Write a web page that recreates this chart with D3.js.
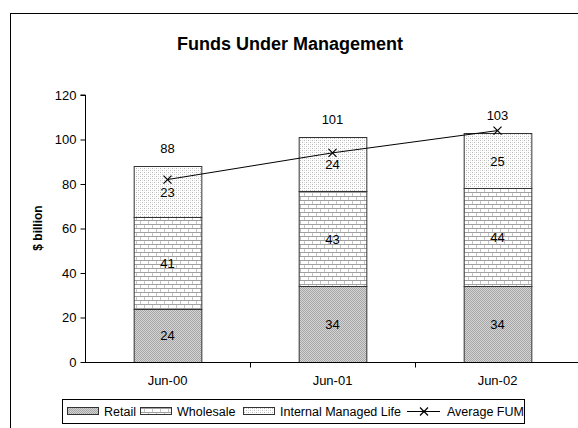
<!DOCTYPE html>
<html>
<head>
<meta charset="utf-8">
<script src="https://cdn.jsdelivr.net/npm/d3@7"></script>
<style>
  html, body { margin: 0; padding: 0; background: #fff; }
  svg { display: block; font-family: Arial, "Liberation Sans", sans-serif; }
</style>
</head>
<body>
<svg id="chart" width="578" height="428"></svg>
<script>
// Funds under management, $ billion
const categories = ["Jun-00", "Jun-01", "Jun-02"];
const retail = [24, 34, 34];
const wholesale = [41, 43, 44];
const internalLife = [23, 24, 25];
const totals = [88, 101, 103];
const averageFum = [82, 94, 104];
const yTicks = [0, 20, 40, 60, 80, 100, 120];

const seriesNames = ["Retail", "Wholesale", "Internal Managed Life"];
const seriesValues = [retail, wholesale, internalLife];
const seriesFill = ["url(#pRetail)", "url(#pWholesale)", "url(#pLife)"];

const svg = d3.select("#chart");
const margin = { left: 85 };
const W = 578;
const FONT = "Arial, 'Liberation Sans', sans-serif";

// --- patterns (mimic the Excel hatch fills) ---
const defs = svg.append("defs");
const pr = defs.append("pattern").attr("id", "pRetail")
  .attr("patternUnits", "userSpaceOnUse").attr("width", 2).attr("height", 2);
pr.append("rect").attr("width", 2).attr("height", 2).attr("fill", "#d4d4d4");
pr.append("rect").attr("width", 1).attr("height", 1).attr("fill", "#a6a6a6");
pr.append("rect").attr("x", 1).attr("y", 1).attr("width", 1).attr("height", 1).attr("fill", "#a6a6a6");

const pw = defs.append("pattern").attr("id", "pWholesale")
  .attr("patternUnits", "userSpaceOnUse").attr("width", 8).attr("height", 8);
pw.append("rect").attr("width", 8).attr("height", 8).attr("fill", "#fff");
pw.append("rect").attr("y", 0).attr("width", 8).attr("height", 1).attr("fill", "#a0a0a0");
pw.append("rect").attr("y", 4).attr("width", 8).attr("height", 1).attr("fill", "#a0a0a0");
pw.append("rect").attr("x", 0).attr("y", 1).attr("width", 1).attr("height", 3).attr("fill", "#c4c4c4");
pw.append("rect").attr("x", 4).attr("y", 5).attr("width", 1).attr("height", 3).attr("fill", "#c4c4c4");

const pl = defs.append("pattern").attr("id", "pLife")
  .attr("patternUnits", "userSpaceOnUse").attr("width", 4).attr("height", 4);
pl.append("rect").attr("width", 4).attr("height", 4).attr("fill", "#fff");
pl.append("rect").attr("width", 1).attr("height", 1).attr("fill", "#b8b8b8");
pl.append("rect").attr("x", 2).attr("y", 2).attr("width", 1).attr("height", 1).attr("fill", "#b8b8b8");
pl.append("rect").attr("x", 2).attr("y", 0).attr("width", 1).attr("height", 1).attr("fill", "#e0e0e0");
pl.append("rect").attr("x", 0).attr("y", 2).attr("width", 1).attr("height", 1).attr("fill", "#e0e0e0");

// outer chart border
svg.append("rect").attr("x", 10.5).attr("y", 13.5)
  .attr("width", 600).attr("height", 440)
  .attr("fill", "none").attr("stroke", "#000").attr("stroke-width", 1);

// title
svg.append("text").attr("x", 290).attr("y", 50).attr("text-anchor", "middle")
  .attr("font-size", 18).attr("font-weight", "bold").text("Funds Under Management");

const x = d3.scaleBand().domain(categories)
  .range([margin.left, margin.left + 165 * categories.length]).paddingInner(0.59).paddingOuter(0.295);
const xTick = d3.scaleBand().domain(categories).range([margin.left, margin.left + 165 * categories.length]);
const y = d3.scaleLinear().domain([0, 120]).range([362, 95]);

// stacked bars
const stackData = categories.map((c, i) => {
  const row = { cat: c };
  seriesNames.forEach((s, k) => { row[s] = seriesValues[k][i]; });
  return row;
});
const stacked = d3.stack().keys(seriesNames)(stackData);

stacked.forEach((layer, k) => {
  const g = svg.append("g");
  g.selectAll("rect").data(layer).join("rect")
    .attr("x", d => x(d.data.cat) + 0.5)
    .attr("y", d => Math.round(y(d[1])) + 0.5)
    .attr("width", x.bandwidth())
    .attr("height", d => Math.round(y(d[0])) - Math.round(y(d[1])))
    .attr("fill", seriesFill[k])
    .attr("stroke", "#333").attr("stroke-width", 1);
  g.selectAll("text").data(layer).join("text")
    .attr("x", d => x(d.data.cat) + x.bandwidth() / 2)
    .attr("y", d => y((d[0] + d[1]) / 2) + 5)
    .attr("text-anchor", "middle").attr("font-size", 13)
    .text(d => d[1] - d[0]);
});

// totals above bars
svg.selectAll("text.total").data(categories).join("text").attr("class", "total")
  .attr("x", c => x(c) + x.bandwidth() / 2)
  .attr("y", (c, i) => y(totals[i]) - 13)
  .attr("text-anchor", "middle").attr("font-size", 13)
  .text((c, i) => totals[i]);

// average FUM line
const cx = c => x(c) + x.bandwidth() / 2;
svg.append("path")
  .attr("d", d3.line().x((d, i) => cx(categories[i])).y(d => y(d))(averageFum))
  .attr("fill", "none").attr("stroke", "#000").attr("stroke-width", 1);
svg.selectAll("path.mk").data(averageFum).join("path").attr("class", "mk")
  .attr("d", (d, i) => {
    const px = cx(categories[i]), py = y(d), r = 4;
    return `M${px - r},${py - r}L${px + r},${py + r}M${px - r},${py + r}L${px + r},${py - r}`;
  })
  .attr("stroke", "#000").attr("stroke-width", 1.2);

// axes
const yAxis = svg.append("g").attr("transform", `translate(${margin.left + 0.5},0)`)
  .call(d3.axisLeft(y).tickValues(yTicks).tickSize(5).tickPadding(4));
yAxis.select(".domain").attr("d", `M-5,${y(120)}H0V${y(0)}`);
yAxis.selectAll("text").attr("font-size", 13).attr("font-family", FONT).attr("fill", "#000");

const xAxis = svg.append("g").attr("transform", `translate(0,${Math.round(y(0)) + 0.5})`);
xAxis.append("line").attr("x1", margin.left).attr("x2", W).attr("stroke", "#000");
xAxis.selectAll("line.tk").data(categories.slice(1)).join("line").attr("class", "tk")
  .attr("x1", c => Math.round(xTick(c)) + 0.5).attr("x2", c => Math.round(xTick(c)) + 0.5)
  .attr("y1", 0).attr("y2", 5).attr("stroke", "#000");
xAxis.selectAll("text").data(categories).join("text")
  .attr("x", c => xTick(c) + xTick.bandwidth() / 2)
  .attr("y", 22).attr("text-anchor", "middle").attr("font-size", 13).text(c => c);

// y label
svg.append("text").attr("transform", "translate(42,228) rotate(-90)")
  .attr("text-anchor", "middle").attr("font-size", 12).attr("font-weight", "bold").text("$ billion");

// legend
const lg = svg.append("g");
lg.append("rect").attr("x", 62.5).attr("y", 399.5).attr("width", 462).attr("height", 24)
  .attr("fill", "#fff").attr("stroke", "#000");
const legendItems = [
  { name: "Retail", fill: seriesFill[0], x: 67 },
  { name: "Wholesale", fill: seriesFill[1], x: 140 },
  { name: "Internal Managed Life", fill: seriesFill[2], x: 243 }
];
legendItems.forEach(it => {
  lg.append("rect").attr("x", it.x + 0.5).attr("y", 407.5).attr("width", 31).attr("height", 7)
    .attr("fill", it.fill).attr("stroke", "#333");
  lg.append("text").attr("x", it.x + 37).attr("y", 416).attr("font-size", 12.5).text(it.name);
});
const lx = 407, ly = 411.5;
lg.append("line").attr("x1", lx).attr("x2", lx + 33).attr("y1", ly).attr("y2", ly).attr("stroke", "#000");
lg.append("path").attr("d", `M${lx + 13},${ly - 4}L${lx + 21},${ly + 4}M${lx + 13},${ly + 4}L${lx + 21},${ly - 4}`)
  .attr("stroke", "#000").attr("stroke-width", 1.2);
lg.append("text").attr("x", lx + 40).attr("y", 416).attr("font-size", 12.5).text("Average FUM");
</script>
</body>
</html>
